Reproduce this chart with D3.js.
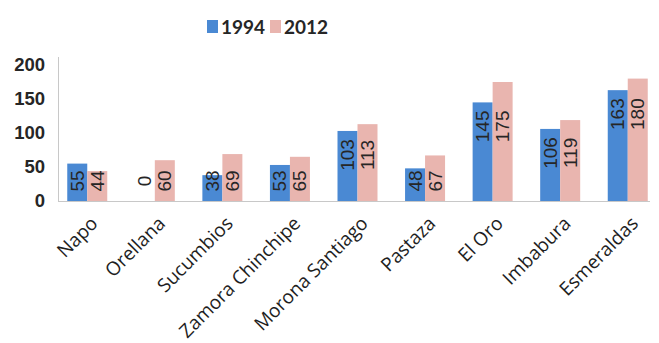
<!DOCTYPE html>
<html>
<head>
<meta charset="utf-8">
<script src="https://cdn.jsdelivr.net/npm/d3@7/dist/d3.min.js"></script>
<style>
  html, body { margin: 0; padding: 0; background: #ffffff; }
  svg { display: block; }
</style>
</head>
<body>
<svg id="chart" width="659" height="343"></svg>
<script>
// Provinces and the two survey years
const provinces = ["Napo", "Orellana", "Sucumbios", "Zamora Chinchipe", "Morona Santiago",
                   "Pastaza", "El Oro", "Imbabura", "Esmeraldas"];
const years = ["1994", "2012"];
const values1994 = [55, 0, 38, 53, 103, 48, 145, 106, 163];
const values2012 = [44, 60, 69, 65, 113, 67, 175, 119, 180];
const yTicks = [0, 50, 100, 150, 200];

const colors = { "1994": "#4a89d3", "2012": "#e9b5af" };
const textColor = "#262626";

const rows = provinces.map((p, i) => ({
  province: p,
  "1994": values1994[i],
  "2012": values2012[i]
}));

const svg = d3.select("#chart");
svg.append("rect").attr("width", 659).attr("height", 343).attr("fill", "#ffffff");

const y = d3.scaleLinear().domain([0, 200]).range([201, 65]);
const x0 = d3.scaleBand().domain(provinces).range([53.2, 661.8])
  .paddingInner(0.408).paddingOuter(0.208);
const x1 = d3.scaleBand().domain(years).range([0, x0.bandwidth()]);

// Axis lines
svg.append("line").attr("x1", 58.5).attr("x2", 58.5).attr("y1", 57).attr("y2", y(0))
  .attr("stroke", "#c8c8c8").attr("stroke-width", 1);
svg.append("line").attr("x1", 58).attr("x2", 650).attr("y1", y(0) + 0.5).attr("y2", y(0) + 0.5)
  .attr("stroke", "#c8c8c8").attr("stroke-width", 1);

// Y axis tick labels
const yAxis = svg.append("g").attr("transform", "translate(58,0)")
  .call(d3.axisLeft(y).tickValues(yTicks).tickSize(0).tickPadding(13));
yAxis.select(".domain").remove();
yAxis.selectAll("text")
  .attr("fill", textColor)
  .style("font-family", "'Liberation Sans', Arial, sans-serif")
  .style("font-size", "18.5px")
  .style("font-weight", "bold");

// Bars
const groups = svg.append("g").selectAll("g").data(rows).join("g")
  .attr("transform", d => `translate(${x0(d.province)},0)`);

groups.selectAll("rect").data(d => years.map(k => ({ key: k, value: d[k] }))).join("rect")
  .attr("x", d => x1(d.key))
  .attr("width", x1.bandwidth())
  .attr("y", d => y(d.value))
  .attr("height", d => y(0) - y(d.value))
  .attr("fill", d => colors[d.key]);

// Value labels, rotated; both labels of a province share a vertical centre
groups.each(function (d) {
  const cy = Math.min(y(0) - 20, y(d["1994"]) + 24);
  d3.select(this).selectAll("text.val").data(years.map(k => ({ key: k, value: d[k] }))).join("text")
    .attr("class", "val")
    .attr("transform", v => `translate(${x1(v.key) + x1.bandwidth() / 2},${cy}) rotate(-90)`)
    .attr("text-anchor", "middle")
    .attr("dominant-baseline", "central")
    .attr("fill", textColor)
    .style("font-family", "'Liberation Sans', Arial, sans-serif")
    .style("font-size", "19px")
    .text(v => v.value);
});

// Category labels
svg.append("g").selectAll("text").data(provinces).join("text")
  .attr("transform", p => `translate(${x0(p) + x0.bandwidth() / 2 + 7},220) rotate(-45)`)
  .attr("text-anchor", "end")
  .attr("dy", "0.35em")
  .attr("fill", "#1e1e1e")
  .style("font-family", "'Open Sans', sans-serif")
  .style("font-size", "19px")
  .text(p => p);

// Legend
const legend = svg.append("g");
const legendItems = [{ key: "1994", x: 207 }, { key: "2012", x: 270 }];
legendItems.forEach(it => {
  legend.append("rect").attr("x", it.x).attr("y", 20).attr("width", 11).attr("height", 13)
    .attr("fill", colors[it.key]);
  legend.append("text").attr("x", it.x + 14).attr("y", 34)
    .attr("fill", textColor)
    .style("font-family", "Lato, 'Open Sans', sans-serif")
    .style("font-size", "19px")
    .style("font-weight", "bold")
    .text(it.key);
});
</script>
</body>
</html>
